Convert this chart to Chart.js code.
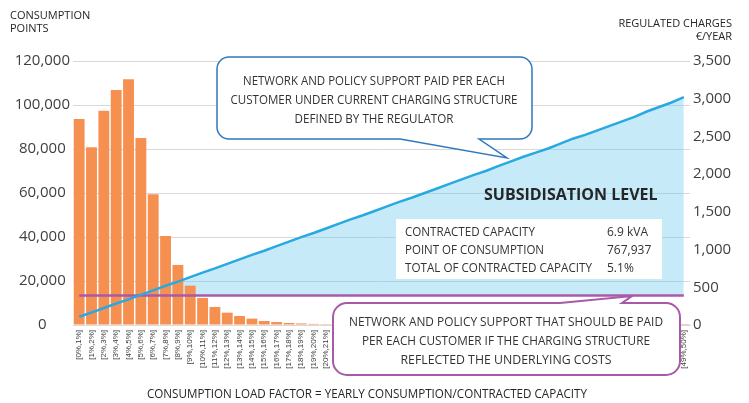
<!DOCTYPE html>
<html>
<head>
<meta charset="utf-8">
<script src="https://cdn.jsdelivr.net/npm/chart.js@4/dist/chart.umd.min.js"></script>
<style>
  html, body { margin: 0; padding: 0; background: #fff; }
  #wrap { width: 749px; height: 403px; }
</style>
</head>
<body>
<div id="wrap"><canvas id="chart" width="749" height="403"></canvas></div>
<script>
// Load factor buckets
const categories = [
  '[0%,1%]', '[1%,2%]', '[2%,3%]', '[3%,4%]', '[4%,5%]', '[5%,6%]', '[6%,7%]', '[7%,8%]', '[8%,9%]', '[9%,10%]',
  '[10%,11%]', '[11%,12%]', '[12%,13%]', '[13%,14%]', '[14%,15%]', '[15%,16%]', '[16%,17%]', '[17%,18%]', '[18%,19%]', '[19%,20%]',
  '[20%,21%]', '[21%,22%]', '[22%,23%]', '[23%,24%]', '[24%,25%]', '[25%,26%]', '[26%,27%]', '[27%,28%]', '[28%,29%]', '[29%,30%]',
  '[30%,31%]', '[31%,32%]', '[32%,33%]', '[33%,34%]', '[34%,35%]', '[35%,36%]', '[36%,37%]', '[37%,38%]', '[38%,39%]', '[39%,40%]',
  '[40%,41%]', '[41%,42%]', '[42%,43%]', '[43%,44%]', '[44%,45%]', '[45%,46%]', '[46%,47%]', '[47%,48%]', '[48%,49%]', '[49%,50%]'
];

// only these buckets get a label on the x axis
const shownCategories = categories.slice(0, 21).concat(['[49%,50%]']);

// number of consumption points per bucket (left axis)
const consumptionPoints = [
  93600, 80800, 97400, 106800, 111700, 85000, 59400, 40400, 27300, 17900,
  12300, 8200, 5600, 4100, 2900, 1800, 1350, 900, 700, 500,
  400, 300, 260, 220, 190, 160, 140, 120, 100, 90,
  80, 70, 60, 50, 45, 40, 35, 30, 25, 20,
  18, 15, 12, 10, 8, 6, 5, 4, 3, 2
];

// regulated charges under current structure, €/year (right axis)
const regulatedCharges = [
  110, 165, 225, 285, 340, 400, 460, 520, 575, 635,
  695, 750, 810, 870, 930, 985, 1045, 1105, 1165, 1220,
  1280, 1340, 1400, 1455, 1515, 1575, 1635, 1690, 1750, 1810,
  1870, 1930, 1990, 2045, 2110, 2170, 2230, 2285, 2340, 2405,
  2470, 2520, 2580, 2640, 2700, 2760, 2830, 2890, 2950, 3020
];

// cost reflective charges, €/year (right axis)
const costReflectiveCharges = [
  390, 390, 390, 390, 390, 390, 390, 390, 390, 390,
  390, 390, 390, 390, 390, 390, 390, 390, 390, 390,
  390, 390, 390, 390, 390, 390, 390, 390, 390, 390,
  390, 390, 390, 390, 390, 390, 390, 390, 390, 390,
  390, 390, 390, 390, 390, 390, 390, 390, 390, 390
];

const leftTicks = [0, 20000, 40000, 60000, 80000, 100000, 120000];
const rightTicks = [0, 500, 1000, 1500, 2000, 2500, 3000, 3500];

const currentNote = [
  'NETWORK AND POLICY SUPPORT PAID PER EACH',
  'CUSTOMER UNDER CURRENT CHARGING STRUCTURE',
  'DEFINED BY THE REGULATOR'
];
const reflectiveNote = [
  'NETWORK AND POLICY SUPPORT THAT SHOULD BE PAID',
  'PER EACH CUSTOMER IF THE CHARGING STRUCTURE',
  'REFLECTED THE UNDERLYING COSTS'
];
const subsidyLabels = ['CONTRACTED CAPACITY', 'POINT OF CONSUMPTION', 'TOTAL OF CONTRACTED CAPACITY'];
const subsidyValues = ['6.9 kVA', '767,937', '5.1%'];

const FONT = '"Open Sans", "Liberation Sans", sans-serif';
const TEXT = '#333333';

// rounded box with a pointer on the top or bottom edge
function calloutPath(ctx, x, y, w, h, r, tail, side) {
  ctx.beginPath();
  ctx.moveTo(x + r, y);
  if (side === 'top') {
    ctx.lineTo(tail[0], y);
    ctx.lineTo(tail[1], tail[2]);
    ctx.lineTo(tail[3], y);
  }
  ctx.arcTo(x + w, y, x + w, y + h, r);
  ctx.arcTo(x + w, y + h, x, y + h, r);
  if (side === 'bottom') {
    ctx.lineTo(tail[3], y + h);
    ctx.lineTo(tail[1], tail[2]);
    ctx.lineTo(tail[0], y + h);
  }
  ctx.arcTo(x, y + h, x, y, r);
  ctx.arcTo(x, y, x + w, y, r);
  ctx.closePath();
}

function drawLines(ctx, lines, cx, ys, widths) {
  lines.forEach((t, i) => ctx.fillText(t, cx, ys[i], widths[i]));
}

const annotations = {
  id: 'annotations',
  afterDraw(chart) {
    const ctx = chart.ctx;
    ctx.save();
    ctx.textBaseline = 'middle';

    // axis titles
    ctx.fillStyle = '#262626';
    ctx.font = '11px ' + FONT;
    ctx.textAlign = 'left';
    ctx.fillText('CONSUMPTION', 10, 16, 84);
    ctx.fillText('POINTS', 10, 29);
    ctx.textAlign = 'right';
    ctx.fillText('REGULATED CHARGES', 732, 23.5, 117);
    ctx.fillText('€/YEAR', 732, 36.5);

    ctx.textAlign = 'center';
    ctx.font = '12px ' + FONT;
    ctx.fillText('CONSUMPTION LOAD FACTOR = YEARLY CONSUMPTION/CONTRACTED CAPACITY', 367, 395, 440);

    // subsidisation table
    ctx.fillStyle = '#262626';
    ctx.textAlign = 'left';
    ctx.font = 'bold 16px ' + FONT;
    ctx.fillText('SUBSIDISATION LEVEL', 484, 195, 175);
    ctx.fillStyle = '#ffffff';
    ctx.fillRect(396, 219, 266, 60);
    ctx.fillStyle = TEXT;
    ctx.font = '12px ' + FONT;
    const rowY = [232.5, 250.5, 268.5];
    const labelW = [130, 139, 187];
    const valueW = [42, 49, 29];
    subsidyLabels.forEach((t, i) => ctx.fillText(t, 405, rowY[i], labelW[i]));
    subsidyValues.forEach((t, i) => ctx.fillText(t, 607, rowY[i], valueW[i]));

    // callout: current charging structure
    ctx.fillStyle = '#ffffff';
    ctx.strokeStyle = '#2f78bd';
    ctx.lineWidth = 1.5;
    calloutPath(ctx, 217, 57, 315, 82, 12, [400, 507, 158, 479], 'bottom');
    ctx.fill();
    ctx.stroke();
    ctx.fillStyle = TEXT;
    ctx.textAlign = 'center';
    ctx.font = '12.5px ' + FONT;
    drawLines(ctx, currentNote, 374, [81, 100, 119], [262, 287, 159]);

    // callout: cost reflective structure
    ctx.fillStyle = '#ffffff';
    ctx.strokeStyle = '#a85aa8';
    ctx.lineWidth = 2;
    calloutPath(ctx, 333, 303, 347, 72, 14, [560, 632, 296, 622], 'top');
    ctx.fill();
    ctx.stroke();
    ctx.fillStyle = TEXT;
    drawLines(ctx, reflectiveNote, 506, [322, 341, 360], [314, 288, 211]);

    ctx.restore();
  }
};

new Chart(document.getElementById('chart'), {
  data: {
    labels: categories,
    datasets: [
      {
        type: 'bar',
        label: 'Consumption points',
        data: consumptionPoints,
        backgroundColor: '#f69050',
        borderWidth: 0,
        barPercentage: 0.88,
        categoryPercentage: 1,
        yAxisID: 'y',
        order: 3
      },
      {
        type: 'line',
        label: 'Regulated charges',
        data: regulatedCharges,
        borderColor: '#29a9e1',
        borderWidth: 2.5,
        pointRadius: 0,
        tension: 0,
        fill: { target: 2, above: 'rgba(112, 202, 237, 0.4)', below: 'rgba(0,0,0,0)' },
        yAxisID: 'y1',
        order: 1
      },
      {
        type: 'line',
        label: 'Cost reflective charges',
        data: costReflectiveCharges,
        borderColor: '#a85aa8',
        borderWidth: 2.5,
        pointRadius: 0,
        fill: false,
        yAxisID: 'y1',
        order: 2
      }
    ]
  },
  options: {
    responsive: false,
    animation: false,
    layout: { padding: { top: 61, left: 0, right: 0, bottom: 0 } },
    plugins: {
      legend: { display: false },
      tooltip: { enabled: false },
      filler: { drawTime: 'beforeDatasetsDraw' }
    },
    scales: {
      x: {
        grid: { display: false, drawTicks: false },
        border: { display: true, color: '#d9d9d9' },
        ticks: {
          autoSkip: false,
          maxRotation: 90,
          minRotation: 90,
          padding: 5,
          color: '#404040',
          font: { family: '"Liberation Sans", Arial, sans-serif', size: 8 },
          callback: function (value) {
            const lab = categories[value];
            return shownCategories.includes(lab) ? lab : '';
          }
        },
        afterFit: function (scale) { scale.height = 78; }
      },
      y: {
        position: 'left',
        min: 0,
        max: 120000,
        afterBuildTicks: function (scale) { scale.ticks = leftTicks.map(v => ({ value: v })); },
        grid: { color: '#d9d9d9', drawTicks: false },
        border: { display: false },
        ticks: {
          padding: 3,
          crossAlign: 'center',
          color: '#404040',
          font: { family: FONT, size: 15 },
          callback: v => v.toLocaleString('en-US')
        },
        afterFit: function (scale) { scale.width = 73; }
      },
      y1: {
        position: 'right',
        min: 0,
        max: 3500,
        afterBuildTicks: function (scale) { scale.ticks = rightTicks.map(v => ({ value: v })); },
        grid: { display: false, drawTicks: false },
        border: { display: false },
        ticks: {
          padding: 3,
          color: '#404040',
          font: { family: FONT, size: 15 },
          callback: v => v.toLocaleString('en-US')
        },
        afterFit: function (scale) { scale.width = 59; }
      }
    }
  },
  plugins: [annotations]
});
</script>
</body>
</html>
